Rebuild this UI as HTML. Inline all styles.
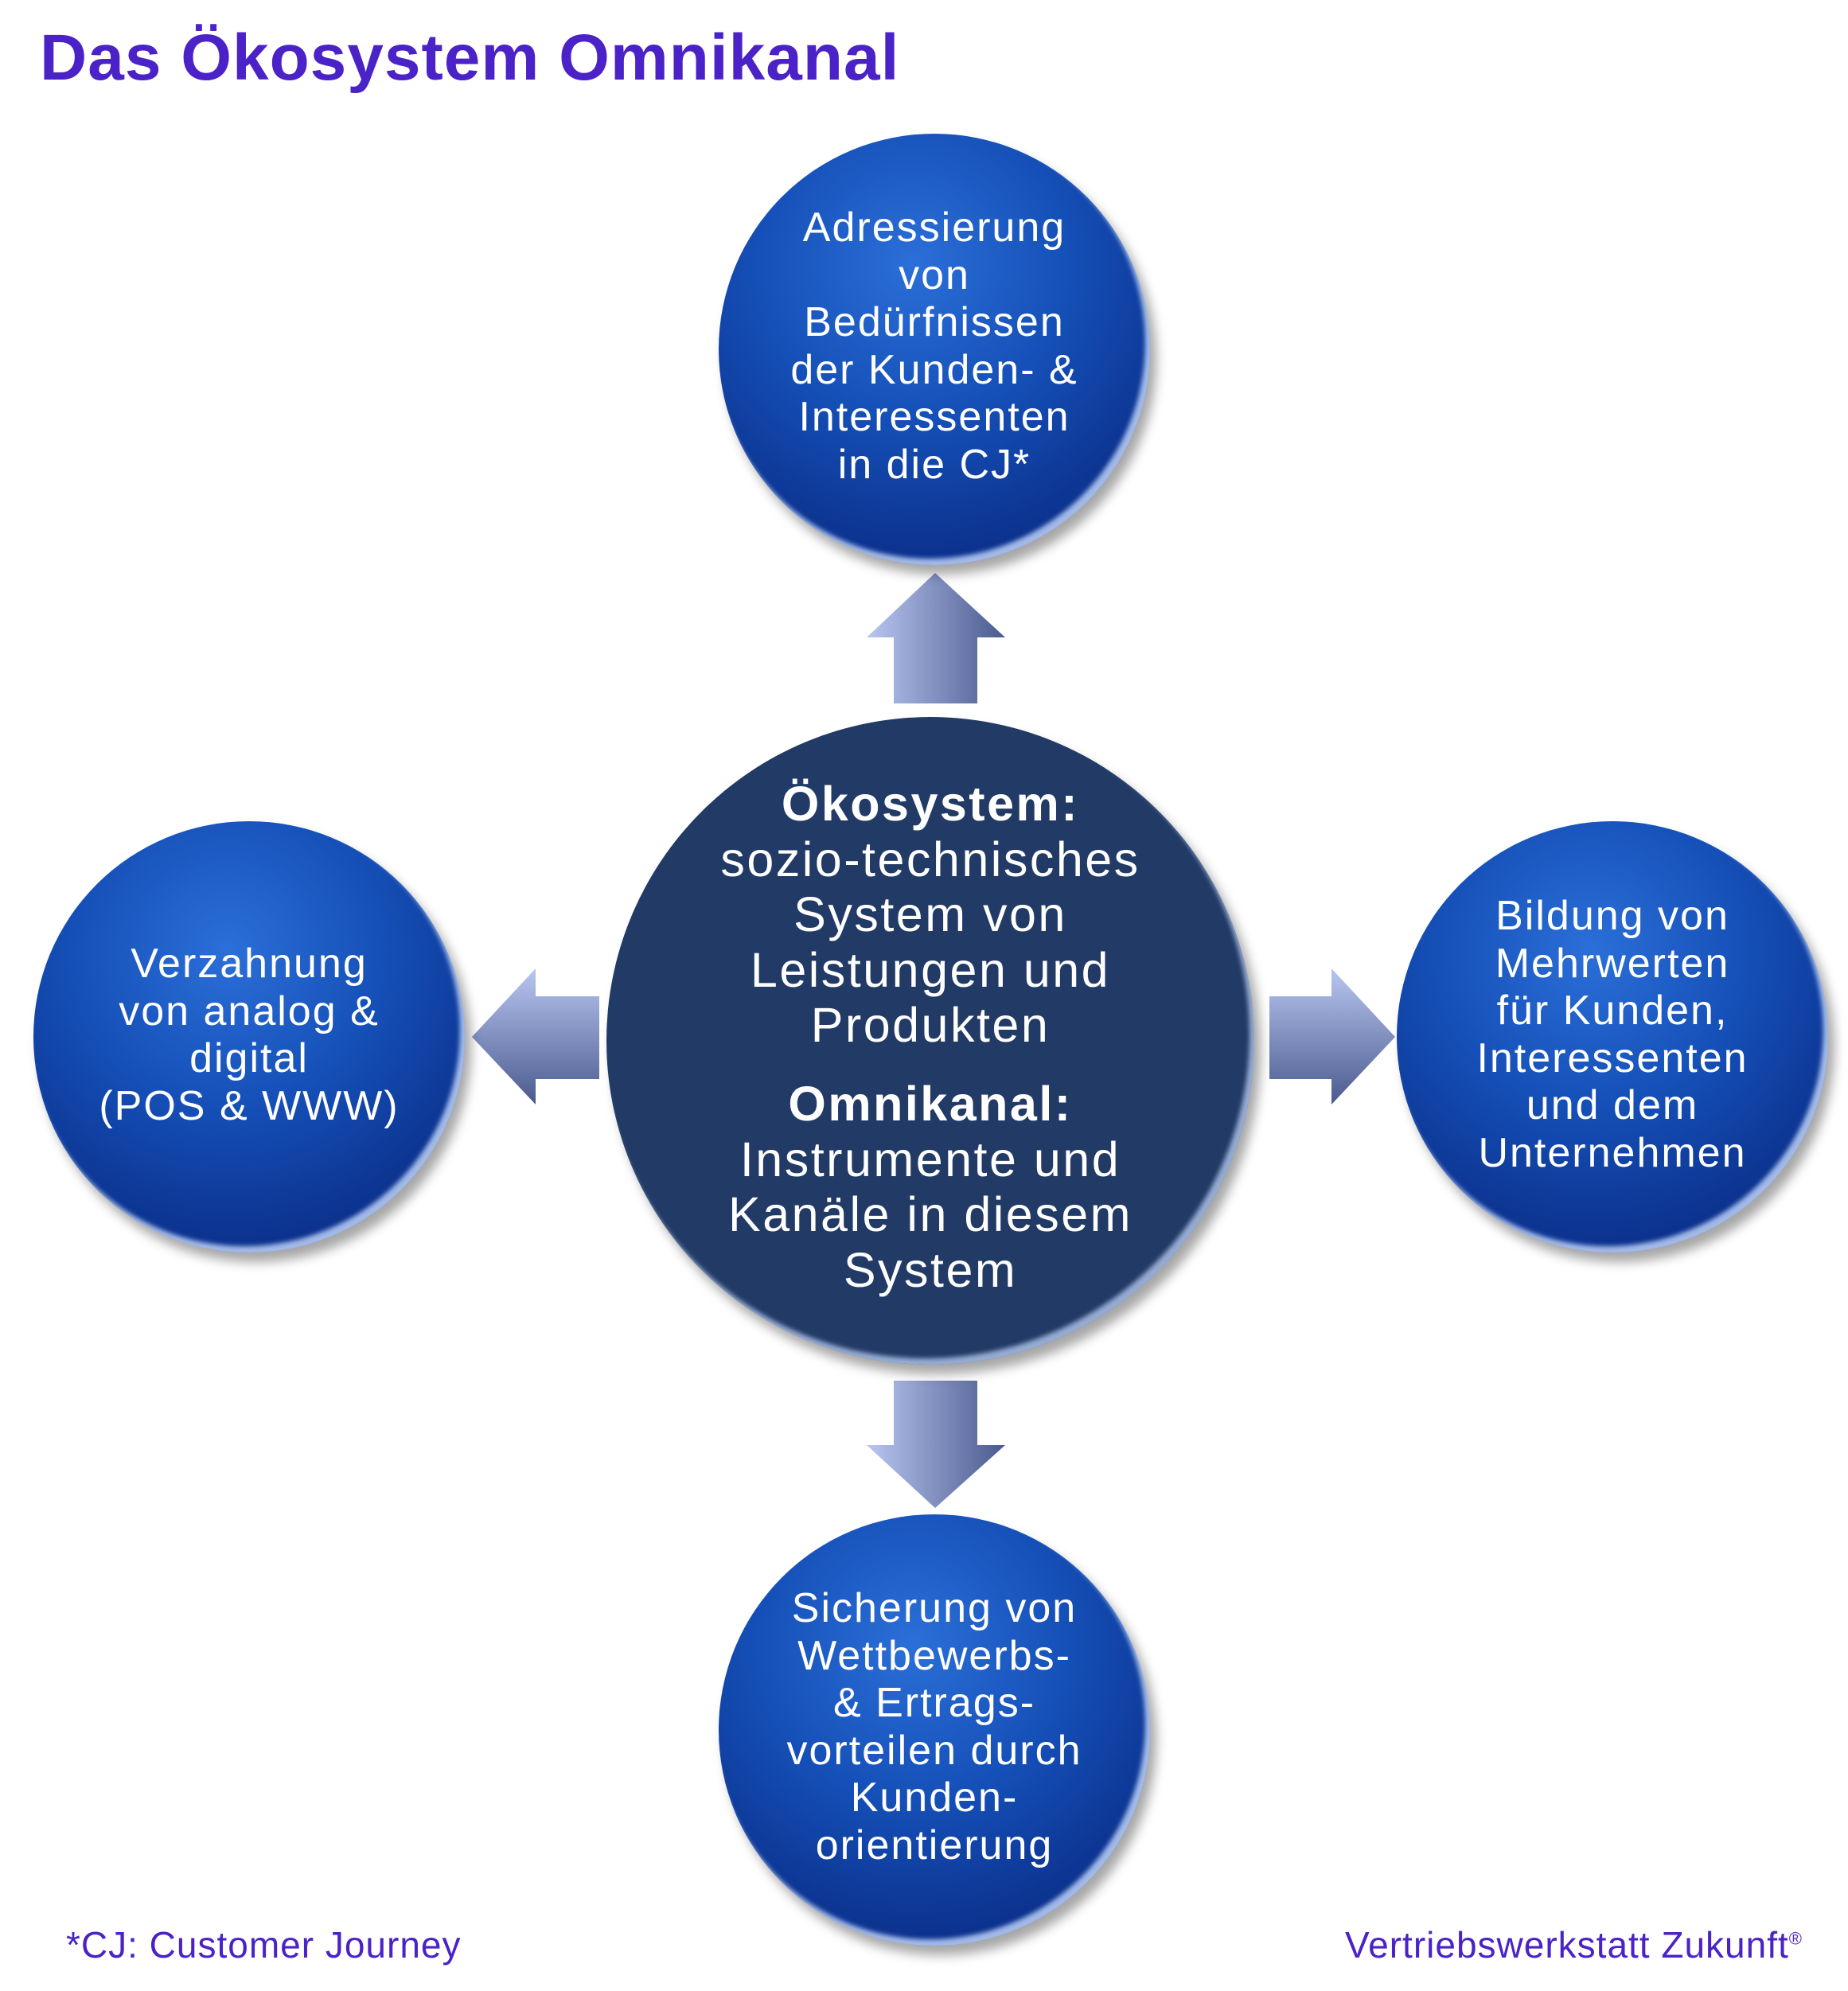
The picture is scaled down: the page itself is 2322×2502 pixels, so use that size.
<!DOCTYPE html>
<html><head><meta charset="utf-8"><style>
body{margin:0;width:2322px;height:2502px;background:#fff;position:relative;overflow:hidden;font-family:"Liberation Sans",sans-serif}
.t{position:absolute;color:#fff;text-align:center;white-space:nowrap;letter-spacing:2px}
.c{position:absolute;border-radius:50%;}
.blue{background:radial-gradient(circle at 45% 30%,#2b6fd8 0%,#1550b8 40%,#0b2f8a 80%,#082470 100%);box-shadow:8px 12px 14px rgba(0,0,0,0.35), inset -6px -8px 6px rgba(200,220,255,0.8);}
</style></head><body>
<div style="position:absolute;left:50px;top:26px;font-size:82px;font-weight:bold;color:#4a22c8;letter-spacing:1px">Das Ökosystem Omnikanal</div>

<svg width="2322" height="2502" style="position:absolute;left:0;top:0">
<defs>
<linearGradient id="gv" x1="0" x2="1"><stop offset="0" stop-color="#b8c6f0"/><stop offset="1" stop-color="#4a5a8e"/></linearGradient>
<linearGradient id="gh" x1="0" y1="0" x2="0" y2="1"><stop offset="0" stop-color="#b8c6f0"/><stop offset="1" stop-color="#4a5a8e"/></linearGradient>
</defs>
<polygon points="1175,720 1263,801 1228,801 1228,884 1123,884 1123,801 1089,801" fill="url(#gv)"/>
<polygon points="1175,1895 1263,1816 1228,1816 1228,1735 1123,1735 1123,1816 1089,1816" fill="url(#gv)"/>
<polygon points="593,1303 673,1217 673,1252 753,1252 753,1356 673,1356 673,1388" fill="url(#gh)"/>
<polygon points="1753,1303 1673,1217 1673,1252 1595,1252 1595,1356 1673,1356 1673,1388" fill="url(#gh)"/>
</svg>

<div class="c blue" style="left:903px;top:168px;width:542px;height:542px"></div>
<div class="c blue" style="left:42px;top:1032px;width:542px;height:542px"></div>
<div class="c blue" style="left:1755px;top:1032px;width:542px;height:542px"></div>
<div class="c blue" style="left:903px;top:1903px;width:542px;height:542px"></div>
<div class="c" style="left:762px;top:901px;width:814px;height:814px;background:#223a66;box-shadow:8px 12px 14px rgba(0,0,0,0.35), inset -6px -8px 6px rgba(200,220,255,0.7)"></div>

<div class="t" style="left:874px;width:600px;top:257px;font-size:52px;line-height:59.5px">Adressierung<br>von<br>Bedürfnissen<br>der Kunden- &amp;<br>Interessenten<br>in die CJ*</div>
<div class="t" style="left:13px;width:600px;top:1182px;font-size:52px;line-height:59.5px">Verzahnung<br>von analog &amp;<br>digital<br>(POS &amp; WWW)</div>
<div class="t" style="left:1726px;width:600px;top:1122px;font-size:52px;line-height:59.5px">Bildung von<br>Mehrwerten<br>für Kunden,<br>Interessenten<br>und dem<br>Unternehmen</div>
<div class="t" style="left:874px;width:600px;top:1992px;font-size:52px;line-height:59.5px">Sicherung von<br>Wettbewerbs-<br>&amp; Ertrags-<br>vorteilen durch<br>Kunden-<br>orientierung</div>
<div class="t" style="left:769px;width:800px;top:976px;font-size:61px;line-height:69.5px;letter-spacing:2.5px"><b>Ökosystem:</b><br>sozio-technisches<br>System von<br>Leistungen und<br>Produkten</div>
<div class="t" style="left:769px;width:800px;top:1353px;font-size:61px;line-height:69.5px;letter-spacing:2.5px"><b>Omnikanal:</b><br>Instrumente und<br>Kanäle in diesem<br>System</div>

<div style="position:absolute;left:83px;top:2417px;font-size:46px;color:#4a22c8;letter-spacing:1px">*CJ: Customer Journey</div>
<div style="position:absolute;right:57px;top:2417px;font-size:46px;color:#4a22c8;letter-spacing:1px">Vertriebswerkstatt Zukunft<sup style="font-size:22px">®</sup></div>
</body></html>
